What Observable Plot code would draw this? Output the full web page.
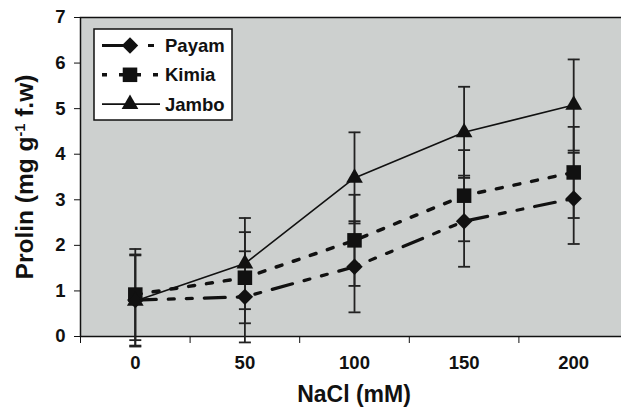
<!DOCTYPE html>
<html><head><meta charset="utf-8">
<script src="https://cdn.jsdelivr.net/npm/d3@7"></script>
<script src="https://cdn.jsdelivr.net/npm/@observablehq/plot@0.6"></script>
<style>
body{margin:0;background:#fff;}
#chart svg{overflow:hidden;display:block;}
</style>
</head><body><div id="chart"></div>
<script>
const doses = ["0","50","100","150","200"];
const seriesNames = ["Payam","Kimia","Jambo"];
const payam = [0.80, 0.87, 1.53, 2.53, 3.03];
const kimia = [0.92, 1.29, 2.11, 3.09, 3.60];
const jambo = [0.78, 1.60, 3.48, 4.48, 5.08];
const payamErr = [1.0, 1.0, 1.0, 1.0, 1.0];
const kimiaErr = [1.0, 1.0, 1.0, 1.0, 1.0];
const jamboErr = [1.0, 1.0, 1.0, 1.0, 1.0];
const yTicks = [0, 1, 2, 3, 4, 5, 6, 7];
const xTitle = "NaCl (mM)";
const yTitle = ["Prolin (mg g", "-1", " f.w)"];

const FONT = "'Liberation Sans', Arial, sans-serif";
const INK = "#111";
const styles = {
  Payam: {symbol: "diamond2", d3sym: d3.symbolDiamond2, r: 7.4, dash: "21,12,6,12,6,12", legendDash: "23,23,6,20", width: 3.2},
  Kimia: {symbol: "square", d3sym: d3.symbolSquare, r: 8.2, dash: "6,12", legendDash: "5,12", width: 3.5},
  Jambo: {symbol: "triangle", d3sym: d3.symbolTriangle, r: 6.2, dash: null, legendDash: null, width: 1.6}
};

const sources = {Payam: [payam, payamErr], Kimia: [kimia, kimiaErr], Jambo: [jambo, jamboErr]};
const rows = [];
for (const name of seriesNames) {
  const [vals, errs] = sources[name];
  vals.forEach((v, i) => rows.push({series: name, i, dose: doses[i], v, lo: v - errs[i], hi: v + errs[i]}));
}
const capSymbol = {draw(ctx, size) { const w = 6; ctx.moveTo(-w, 0); ctx.lineTo(w, 0); }};
const boundaries = doses.map((d, i) => i - 0.5).concat([doses.length - 0.5]);

const marks = [Plot.frame({fill: "#cdd0cf", stroke: INK, strokeWidth: 1.5})];
for (const name of seriesNames) {
  const s = styles[name];
  marks.push(Plot.line(rows.filter(d => d.series === name), {x: "i", y: "v", stroke: INK, strokeWidth: s.width, strokeDasharray: s.dash}));
}
marks.push(Plot.ruleX(rows, {x: "i", y1: "lo", y2: "hi", stroke: "#222", strokeWidth: 1.8}));
marks.push(Plot.dot(rows, {x: "i", y: "lo", symbol: capSymbol, stroke: "#222", strokeWidth: 1.8}));
marks.push(Plot.dot(rows, {x: "i", y: "hi", symbol: capSymbol, stroke: "#222", strokeWidth: 1.8}));
for (const name of seriesNames) {
  const s = styles[name];
  marks.push(Plot.dot(rows.filter(d => d.series === name), {x: "i", y: "v", symbol: s.symbol, r: s.r, fill: INK, stroke: "none"}));
}
marks.push(Plot.axisY({ticks: yTicks, tickSize: 6, tickPadding: 9, tickFormat: d => String(d), fontSize: 18.5, label: null, stroke: INK}));
marks.push(Plot.axisX({ticks: boundaries, tickSize: 7, tickFormat: () => "", label: null, stroke: INK}));
marks.push(Plot.axisX({ticks: doses.map((d, i) => i), tickSize: 0, tickPadding: 19, tickFormat: i => doses[i], fontSize: 18.5, label: null}));

const chart = Plot.plot({
  width: 621, height: 409,
  marginLeft: 80, marginRight: -7, marginTop: 17, marginBottom: 73,
  x: {domain: [-0.5, doses.length - 0.5]},
  y: {domain: [0, 7]},
  style: {fontFamily: FONT, fontWeight: "bold", color: INK, background: "#fff", overflow: "hidden"},
  marks
});
document.getElementById("chart").appendChild(chart);

const svg = d3.select(chart);
// axis titles
svg.append("text").attr("x", 354).attr("y", 402).attr("text-anchor", "middle")
  .attr("font-size", 23).attr("font-weight", "bold").attr("font-family", FONT).attr("fill", INK).text(xTitle);
const yt = svg.append("text").attr("transform", "translate(33,177) rotate(-90)").attr("text-anchor", "middle")
  .attr("font-size", 24.5).attr("font-weight", "bold").attr("font-family", FONT).attr("fill", INK);
yt.append("tspan").text(yTitle[0]);
yt.append("tspan").attr("font-size", 14.5).attr("baseline-shift", "super").text(yTitle[1]);
yt.append("tspan").text(yTitle[2]);

// legend
const lg = svg.append("g").attr("font-family", FONT).attr("font-weight", "bold").attr("text-anchor", "start");
lg.append("rect").attr("x", 94).attr("y", 29).attr("width", 138).attr("height", 91)
  .attr("fill", "#fff").attr("stroke", INK).attr("stroke-width", 1.5);
seriesNames.forEach((name, k) => {
  const s = styles[name];
  const cy = 45.5 + k * 29.3;
  lg.append("line").attr("x1", 102).attr("x2", 160).attr("y1", cy).attr("y2", cy)
    .attr("stroke", INK).attr("stroke-width", s.width).attr("stroke-dasharray", s.legendDash);
  lg.append("path").attr("d", d3.symbol(s.d3sym, s.r * s.r * Math.PI)()).attr("transform", `translate(130,${cy})`).attr("fill", INK);
  lg.append("text").attr("x", 165).attr("y", cy + 6.5).attr("text-anchor", "start").attr("font-size", 18.5).attr("fill", INK).text(name);
});
</script>
</body></html>
